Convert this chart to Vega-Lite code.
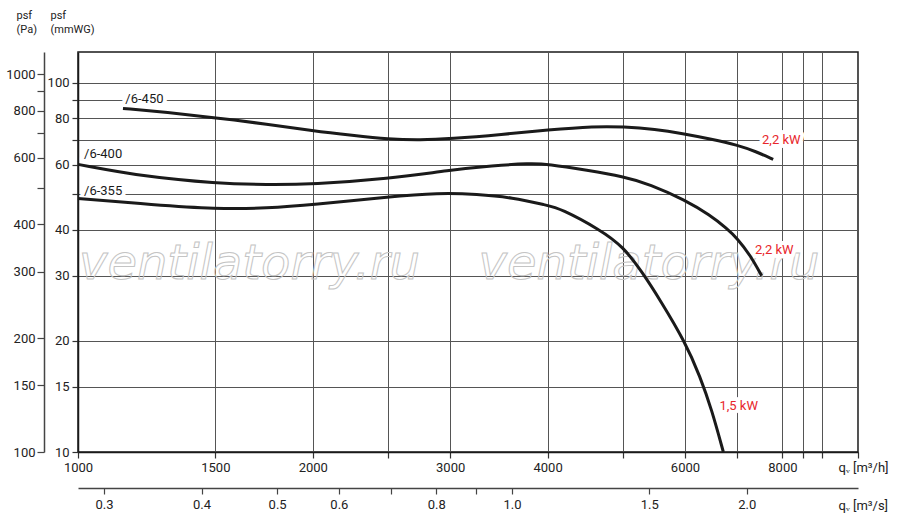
{
  "$schema": "https://vega.github.io/schema/vega-lite/v6.json",
  "description": "Fan curves /6-355, /6-400, /6-450",
  "width": 780,
  "height": 400,
  "autosize": {"type": "none"},
  "padding": {"left": 78, "top": 52, "right": 42, "bottom": 69},
  "background": "white",
  "config": {
    "font": "Roboto",
    "view": {"stroke": "#1a1a1a", "strokeWidth": 1.5},
    "axis": {
      "labelFont": "Roboto",
      "labelFontSize": 13,
      "labelColor": "#222",
      "labelFlush": false,
      "labelOverlap": false,
      "titleFont": "Roboto",
      "titleFontWeight": "normal",
      "titleColor": "#222",
      "domainColor": "#1a1a1a",
      "domainWidth": 1.5,
      "tickColor": "#333",
      "tickWidth": 1.2,
      "gridColor": "#555",
      "gridWidth": 1,
      "gridOpacity": 1
    }
  },
  "datasets": {
    "curves": [
      {"model": "/6-450", "q": 1142, "p": 85.2},
      {"model": "/6-450", "q": 1300, "p": 83.1},
      {"model": "/6-450", "q": 1500, "p": 80.4},
      {"model": "/6-450", "q": 1750, "p": 77.2},
      {"model": "/6-450", "q": 2000, "p": 74.1},
      {"model": "/6-450", "q": 2250, "p": 72.0},
      {"model": "/6-450", "q": 2500, "p": 70.3},
      {"model": "/6-450", "q": 2750, "p": 69.9},
      {"model": "/6-450", "q": 3000, "p": 70.5},
      {"model": "/6-450", "q": 3500, "p": 72.4},
      {"model": "/6-450", "q": 4000, "p": 74.5},
      {"model": "/6-450", "q": 4600, "p": 76.2},
      {"model": "/6-450", "q": 5000, "p": 76.0},
      {"model": "/6-450", "q": 5500, "p": 74.8},
      {"model": "/6-450", "q": 5950, "p": 72.9},
      {"model": "/6-450", "q": 6500, "p": 70.3},
      {"model": "/6-450", "q": 7000, "p": 67.8},
      {"model": "/6-450", "q": 7400, "p": 65.1},
      {"model": "/6-450", "q": 7785, "p": 62.0},
      {"model": "/6-400", "q": 1000, "p": 60.1},
      {"model": "/6-400", "q": 1220, "p": 55.6},
      {"model": "/6-400", "q": 1500, "p": 53.4},
      {"model": "/6-400", "q": 1750, "p": 52.9},
      {"model": "/6-400", "q": 2000, "p": 53.1},
      {"model": "/6-400", "q": 2500, "p": 54.9},
      {"model": "/6-400", "q": 3000, "p": 58.0},
      {"model": "/6-400", "q": 3400, "p": 59.6},
      {"model": "/6-400", "q": 3800, "p": 60.5},
      {"model": "/6-400", "q": 4000, "p": 60.2},
      {"model": "/6-400", "q": 4500, "p": 57.9},
      {"model": "/6-400", "q": 5000, "p": 55.7},
      {"model": "/6-400", "q": 5410, "p": 53.1},
      {"model": "/6-400", "q": 6000, "p": 48.1},
      {"model": "/6-400", "q": 6460, "p": 43.8},
      {"model": "/6-400", "q": 6790, "p": 40.3},
      {"model": "/6-400", "q": 7000, "p": 37.9},
      {"model": "/6-400", "q": 7270, "p": 34.2},
      {"model": "/6-400", "q": 7525, "p": 30.0},
      {"model": "/6-355", "q": 1000, "p": 48.6},
      {"model": "/6-355", "q": 1250, "p": 46.7},
      {"model": "/6-355", "q": 1500, "p": 45.5},
      {"model": "/6-355", "q": 1750, "p": 45.7},
      {"model": "/6-355", "q": 2000, "p": 46.7},
      {"model": "/6-355", "q": 2500, "p": 49.1},
      {"model": "/6-355", "q": 2900, "p": 50.3},
      {"model": "/6-355", "q": 3250, "p": 49.9},
      {"model": "/6-355", "q": 3600, "p": 48.9},
      {"model": "/6-355", "q": 4000, "p": 46.5},
      {"model": "/6-355", "q": 4150, "p": 45.7},
      {"model": "/6-355", "q": 4670, "p": 40.0},
      {"model": "/6-355", "q": 5000, "p": 36.0},
      {"model": "/6-355", "q": 5300, "p": 30.5},
      {"model": "/6-355", "q": 5575, "p": 25.8},
      {"model": "/6-355", "q": 6000, "p": 19.9},
      {"model": "/6-355", "q": 6275, "p": 16.0},
      {"model": "/6-355", "q": 6495, "p": 13.0},
      {"model": "/6-355", "q": 6720, "p": 10.0}
    ],
    "labels": [
      {"text": "/6-450", "kind": "model", "q": 1150, "p": 90.5},
      {"text": "/6-400", "kind": "model", "q": 1018, "p": 64.1},
      {"text": "/6-355", "kind": "model", "q": 1018, "p": 50.9},
      {"text": "2,2 kW", "kind": "power", "q": 7533, "p": 70.0},
      {"text": "2,2 kW", "kind": "power", "q": 7379, "p": 35.2},
      {"text": "1,5 kW", "kind": "power", "q": 6642, "p": 13.35}
    ],
    "watermark": [
      {"t": "ventilatorry.ru", "q": 1659, "p": 29.4},
      {"t": "ventilatorry.ru", "q": 5396, "p": 29.4}
    ]
  },
  "layer": [
    {
      "encoding": {
        "x": {
          "field": "q",
          "type": "quantitative",
          "scale": {"type": "log", "domain": [1000, 10000], "nice": false},
          "axis": {
            "orient": "bottom",
            "values": [1000, 1500, 2000, 2500, 3000, 4000, 5000, 6000, 7000, 8000, 8500, 9000, 10000],
            "labelExpr": "indexof([1000, 1500, 2000, 3000, 4000, 6000, 8000], datum.value) >= 0 ? format(datum.value, 'd') : ''",
            "grid": true,
            "tickSize": 6,
            "labelPadding": 3,
            "title": "qᵥ [m³/h]",
            "titleFontSize": 13,
            "titleX": 760,
            "titleY": 15,
            "titleAlign": "left",
            "titleBaseline": "middle"
          }
        },
        "y": {
          "field": "p",
          "type": "quantitative",
          "scale": {"type": "log", "domain": [10, 121.1], "nice": false},
          "axis": {
            "orient": "left",
            "values": [10, 15, 20, 30, 40, 50, 60, 70, 80, 90, 100],
            "labelExpr": "indexof([50, 70, 90], datum.value) >= 0 ? '' : format(datum.value, 'd')",
            "grid": true,
            "tickSize": 6,
            "labelPadding": 3,
            "title": ["psf", "(mmWG)"],
            "titleFontSize": 11,
            "titleLineHeight": 14,
            "titleAngle": 0,
            "titleX": -28,
            "titleY": -43,
            "titleAlign": "left",
            "titleBaseline": "top"
          }
        }
      },
      "layer": [
        {
          "data": {"name": "watermark"},
          "mark": {
            "type": "text",
            "font": "DejaVu Sans",
            "fontStyle": "italic",
            "fontSize": 48,
            "align": "center",
            "baseline": "alphabetic",
            "fill": "transparent",
            "stroke": "#c4c4c4",
            "strokeWidth": 1
          },
          "encoding": {"text": {"field": "t"}}
        },
        {
          "data": {"name": "labels"},
          "mark": {
            "type": "text",
            "align": "left",
            "baseline": "middle",
            "fontSize": 13,
            "fill": "white",
            "stroke": "white",
            "strokeWidth": 8,
            "strokeJoin": "round"
          },
          "encoding": {"text": {"field": "text"}}
        },
        {
          "data": {"name": "curves"},
          "mark": {
            "type": "line",
            "interpolate": "basis",
            "strokeWidth": 3,
            "color": "#1a1a1a",
            "strokeCap": "butt"
          },
          "encoding": {"detail": {"field": "model"}}
        },
        {
          "data": {"name": "labels"},
          "mark": {"type": "text", "align": "left", "baseline": "middle", "fontSize": 13},
          "encoding": {
            "text": {"field": "text"},
            "color": {
              "field": "kind",
              "type": "nominal",
              "scale": {"domain": ["model", "power"], "range": ["#1a1a1a", "#e8262b"]},
              "legend": null
            }
          }
        }
      ]
    },
    {
      "data": {"values": [{"pa": 100}, {"pa": 1000}]},
      "mark": {"type": "point", "opacity": 0},
      "encoding": {
        "y": {
          "field": "pa",
          "type": "quantitative",
          "scale": {"type": "log", "domain": [100, 1143.6], "nice": false},
          "axis": {
            "orient": "left",
            "offset": 34,
            "values": [100, 150, 200, 300, 400, 500, 600, 700, 800, 900, 1000],
            "labelExpr": "indexof([500, 700, 900], datum.value) >= 0 ? '' : format(datum.value, 'd')",
            "grid": false,
            "tickSize": 7,
            "labelPadding": 2,
            "domainColor": "#444",
            "tickColor": "#444",
            "title": ["psf", "(Pa)"],
            "titleFontSize": 11,
            "titleLineHeight": 14,
            "titleAngle": 0,
            "titleX": -28,
            "titleY": -43,
            "titleAlign": "left",
            "titleBaseline": "top"
          }
        }
      }
    },
    {
      "data": {"values": [{"qs": 0.3}, {"qs": 2.0}]},
      "mark": {"type": "point", "opacity": 0},
      "encoding": {
        "x": {
          "field": "qs",
          "type": "quantitative",
          "scale": {"type": "log", "domain": [0.27778, 2.77778], "nice": false},
          "axis": {
            "orient": "bottom",
            "offset": 36,
            "values": [0.3, 0.4, 0.5, 0.6, 0.7, 0.8, 0.9, 1, 1.5, 2],
            "labelExpr": "datum.value == 0.7 || datum.value == 0.9 ? '' : format(datum.value, '.1f')",
            "grid": false,
            "tickSize": 6,
            "labelPadding": 4,
            "domainColor": "#444",
            "tickColor": "#444",
            "title": "qᵥ [m³/s]",
            "titleFontSize": 13,
            "titleX": 760,
            "titleY": 17,
            "titleAlign": "left",
            "titleBaseline": "middle"
          }
        }
      }
    }
  ],
  "resolve": {
    "scale": {"x": "independent", "y": "independent"},
    "axis": {"x": "independent", "y": "independent"}
  }
}
